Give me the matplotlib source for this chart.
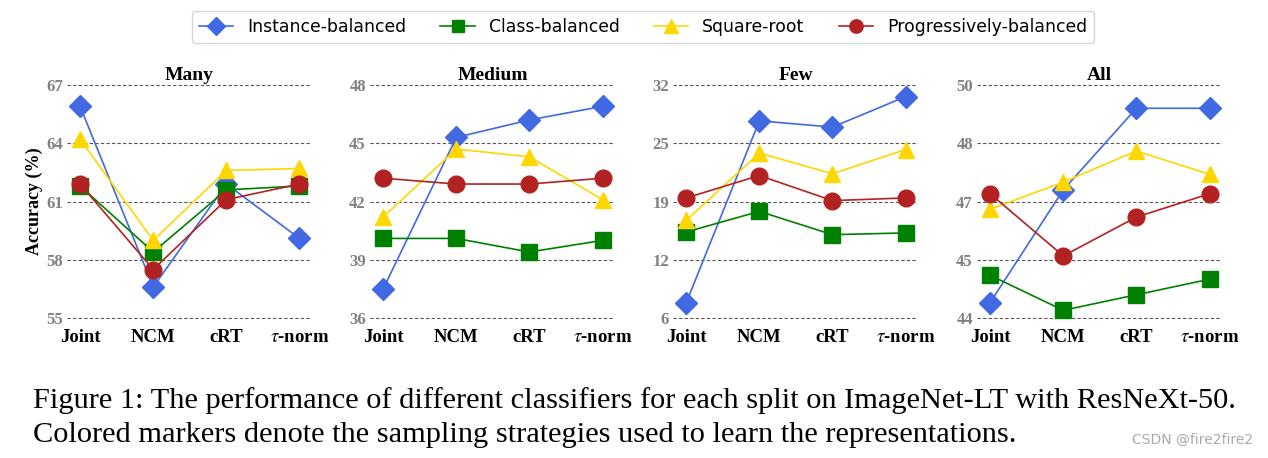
import numpy as np
import matplotlib
matplotlib.use("Agg")
import matplotlib.pyplot as plt

plt.rcParams['font.family'] = 'serif'
plt.rcParams['font.serif'] = ['Liberation Serif', 'DejaVu Serif']
plt.rcParams['mathtext.fontset'] = 'stix'

# 数据
classifiers = ['Joint', 'NCM', 'cRT', r'$\tau$-norm']
splits = ['Many', 'Medium', 'Few', 'All']
y_ranges = [(55, 67), (36, 48), (6, 32), (44, 50)]

strategies = ['Instance-balanced', 'Class-balanced', 'Square-root', 'Progressively-balanced']
instance_balanced = [[65.9, 56.6, 61.9, 59.1],
                     [37.5, 45.3, 46.2, 46.9],
                     [7.7, 28.0, 27.3, 30.7],
                     [44.4, 47.3, 49.4, 49.4]]
class_balanced = [[61.8, 58.4, 61.6, 61.8],
                  [40.1, 40.1, 39.4, 40.0],
                  [15.6, 17.9, 15.3, 15.5],
                  [45.1, 44.2, 44.6, 45.0]]
square_root = [[64.2, 59.0, 62.6, 62.7],
               [41.2, 44.7, 44.3, 42.1],
               [16.9, 24.4, 22.1, 24.8],
               [46.8, 47.5, 48.3, 47.7]]
progressive = [[61.9, 57.5, 61.1, 61.9],
               [43.2, 42.9, 42.9, 43.2],
               [19.4, 21.9, 19.1, 19.4],
               [47.2, 45.6, 46.6, 47.2]]

series = [instance_balanced, class_balanced, square_root, progressive]
colors = ['royalblue', 'green', 'gold', 'firebrick']
markers = ['D', 's', '^', 'o']
msizes = [11, 11, 12, 12]

fig = plt.figure(figsize=(12.68, 4.58), dpi=100)
lefts = [0.0528, 0.2918, 0.5308, 0.7705]
x = np.arange(len(classifiers))

handles = []
for i, split in enumerate(splits):
    ax = fig.add_axes([lefts[i], 0.3035, 0.1932, 0.513])
    for k, s in enumerate(series):
        h, = ax.plot(x, s[i], color=colors[k], marker=markers[k], markersize=msizes[k],
                     linewidth=1.2, clip_on=False, zorder=3)
        if i == 0:
            handles.append(h)
    lo, hi = y_ranges[i]
    eps = (hi - lo) * 0.004
    ax.set_ylim(lo - eps, hi + eps)
    ax.set_xlim(-0.18, 3.17)
    ticks = np.linspace(lo, hi, 5)
    ax.set_yticks(ticks)
    ax.set_yticklabels(['%d' % t for t in ticks], color='gray', fontsize=12, fontweight='bold')
    ax.set_xticks(x)
    ax.set_xticklabels(classifiers, fontsize=13.5, fontweight='bold')
    ax.tick_params(axis='both', length=0)
    ax.tick_params(axis='y', pad=3)
    ax.tick_params(axis='x', pad=7)
    ax.grid(axis='y', linestyle=(0, (3, 2)), color='#555555', linewidth=0.8)
    ax.set_axisbelow(True)
    for sp in ax.spines.values():
        sp.set_visible(False)
    ax.set_title(split, fontsize=14, fontweight='bold', pad=3)
    if i == 0:
        ax.set_ylabel('Accuracy (%)', fontsize=13, fontweight='bold', labelpad=2)

fig.legend(handles, strategies, loc='upper center', bbox_to_anchor=(0.507, 0.995), ncol=4,
           prop={'family': 'DejaVu Sans', 'size': 12.4}, frameon=True, handlelength=2.0,
           columnspacing=2.0, markerscale=0.8)

fig.text(0.026, 0.11, 'Figure 1: The performance of different classifiers for each split on ImageNet-LT with ResNeXt-50.',
         fontsize=21.9, ha='left', va='baseline')
fig.text(0.026, 0.035, 'Colored markers denote the sampling strategies used to learn the representations.',
         fontsize=21.9, ha='left', va='baseline')
fig.text(0.988, 0.03, 'CSDN @fire2fire2', fontsize=10, color='#aaaaaa', family='DejaVu Sans',
         ha='right', va='baseline')

fig.savefig('out.png', dpi=100)
